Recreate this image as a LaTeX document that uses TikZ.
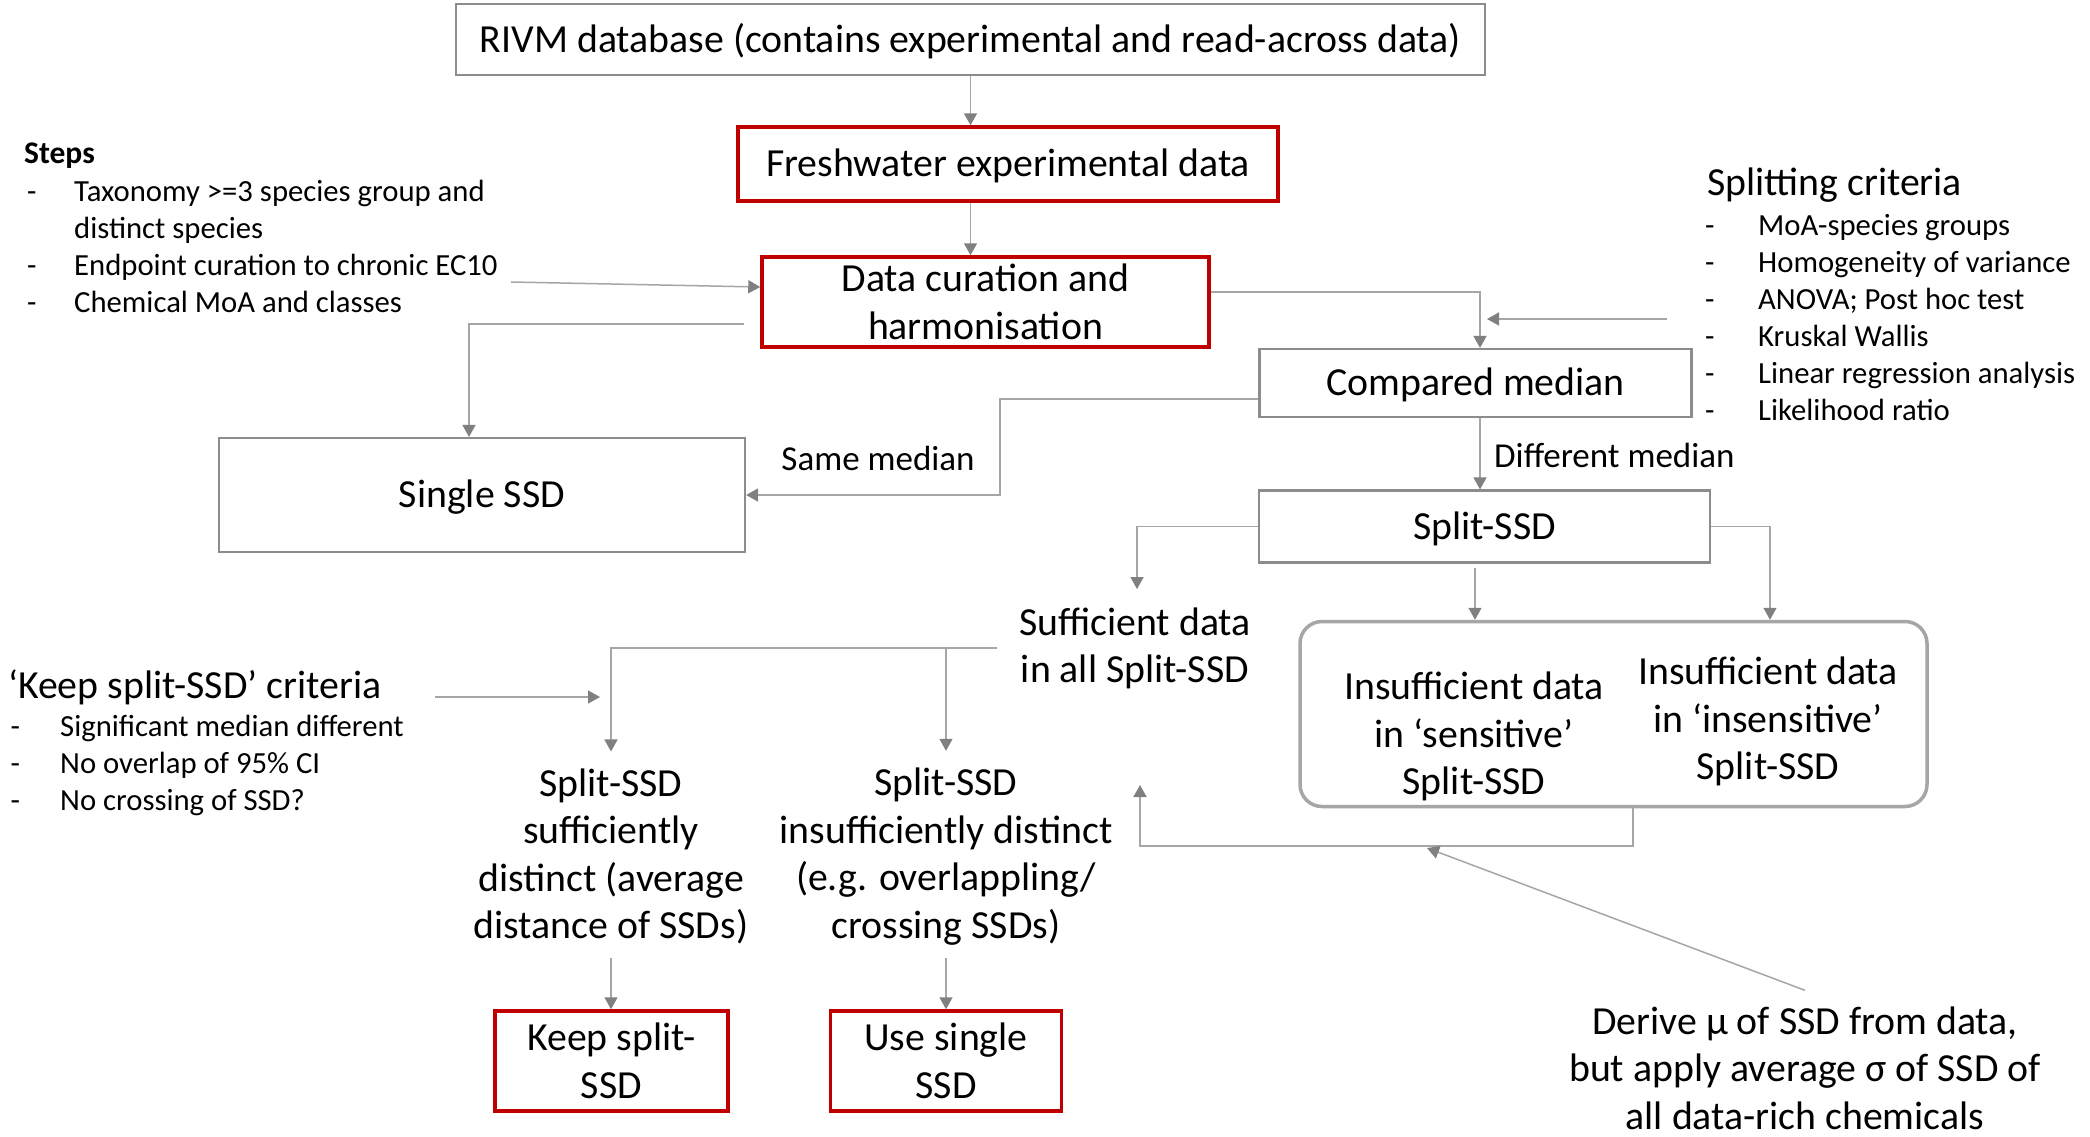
\documentclass[tikz,border=0pt]{standalone}
\usepackage{fontspec}
\setmainfont{Carlito}
\usetikzlibrary{arrows.meta}
\definecolor{linegray}{HTML}{A6A6A6}
\definecolor{tipgray}{HTML}{808080}
\definecolor{boxgray}{HTML}{8C8C8C}
\definecolor{roundgray}{HTML}{A6A6A6}
\definecolor{redline}{HTML}{C00000}
\begin{document}
\begin{tikzpicture}[x=1pt,y=-1pt,
  bigfont/.style={font=\fontsize{39.8}{47.5}\selectfont},
  labelfont/.style={font=\fontsize{35}{42}\selectfont},
  smallfont/.style={font=\fontsize{30.7}{37}\selectfont},
  graybox/.style={draw=boxgray, line width=2.2pt, inner sep=0pt, bigfont, align=center},
  redbox/.style={draw=redline, line width=3.5pt, inner sep=0pt, bigfont, align=center},
  oneline/.style={text height=33pt, text depth=8pt},
  plaintext/.style={inner sep=0pt, bigfont, align=center},
  arr/.style={draw=linegray, line width=1.5pt, -{Triangle[length=12pt,width=13pt,color=tipgray]}}
]
\fill[white] (0,0) rectangle (2090,1136);
\useasboundingbox (0,0) rectangle (2090,1136);

% main flow boxes
\node[graybox, oneline, minimum width=1029pt, minimum height=71pt] (rivm) at (970.5,39.5)
  {RIVM database (contains experimental and read-across data)};
\node[redbox, oneline, minimum width=540pt, minimum height=74pt] (fresh) at (1008,164)
  {Freshwater experimental data};
\node[redbox, minimum width=447pt, minimum height=90pt] (data) at (985.5,302)
  {Data curation and\\harmonisation};
\node[graybox, oneline, minimum width=526pt, minimum height=114pt] (single) at (482,495)
  {Single SSD};
\node[graybox, oneline, minimum width=432pt, minimum height=68pt] (cmp) at (1475.5,383)
  {Compared median};
\node[graybox, oneline, minimum width=451pt, minimum height=72pt] (split) at (1484.5,526.5)
  {Split-SSD};

% group of insufficient-data cases
\node[draw=roundgray, line width=3.5pt, rounded corners=22pt,
      minimum width=627pt, minimum height=185pt] (insuff) at (1613.5,714) {};
\node[plaintext] (sens) at (1474,736.5) {Insufficient data\\in ‘sensitive’\\Split-SSD};
\node[plaintext] (insens) at (1768,721.5) {Insufficient data\\in ‘insensitive’\\Split-SSD};

% branch texts
\node[plaintext] (suff) at (1135,648.5) {Sufficient data\\in all Split-SSD};
\node[plaintext] (sdist) at (611,856.5) {Split-SSD\\sufficiently\\distinct (average\\distance of SSDs)};
\node[plaintext] (idist) at (946,856.5) {Split-SSD\\insufficiently distinct\\(e.g. overlappling/\\crossing SSDs)};
\node[plaintext] (derive) at (1805,1068) {Derive μ of SSD from data,\\but apply average σ of SSD of\\all data-rich chemicals};

% outcomes
\node[redbox, minimum width=233pt, minimum height=100pt] (keep) at (611.5,1061) {Keep split-\\SSD};
\node[redbox, minimum width=231pt, minimum height=100pt] (use) at (946,1061) {Use single\\SSD};

% side notes
\node[anchor=base west, inner sep=0pt, font=\fontsize{31.5}{37}\selectfont\bfseries] (stepsT) at (24,163) {Steps};
\node[anchor=base west, inner sep=0pt, smallfont] (stepsL) at (27,201.7)
  {\begin{tabular}[t]{@{}p{47pt}@{}l@{}}
   -&Taxonomy >=3 species group and\\
    &distinct species\\
   -&Endpoint curation to chronic EC10\\
   -&Chemical MoA and classes
   \end{tabular}};

\node[anchor=base west, inner sep=0pt, bigfont] (critT) at (1707,195) {Splitting criteria};
\node[anchor=base west, inner sep=0pt, smallfont] (critL) at (1705,235)
  {\begin{tabular}[t]{@{}p{53pt}@{}l@{}}
   -&MoA-species groups\\
   -&Homogeneity of variance\\
   -&ANOVA; Post hoc test\\
   -&Kruskal Wallis\\
   -&Linear regression analysis\\
   -&Likelihood ratio
   \end{tabular}};

\node[anchor=base west, inner sep=0pt, bigfont] (keepT) at (8,698) {‘Keep split-SSD’ criteria};
\node[anchor=base west, inner sep=0pt, smallfont] (keepL) at (10.5,736.7)
  {\begin{tabular}[t]{@{}p{49.5pt}@{}l@{}}
   -&Significant median different\\
   -&No overlap of 95\% CI\\
   -&No crossing of SSD?
   \end{tabular}};

% connector labels
\node[anchor=base, inner sep=0pt, labelfont] (sameL) at (878,470) {Same median};
\node[anchor=base west, inner sep=0pt, labelfont] (diffL) at (1494,467) {Different median};

% free connector ends
\coordinate (stepsout) at (511,282);
\coordinate (critout) at (1667,319);
\coordinate (critin) at (1487,319);
\coordinate (sameturn) at (1000,495);
\coordinate (keepout) at (435,697);
\coordinate (keepin) at (600,697);
\coordinate (loopcorner) at (1140,846);
\coordinate (looptip) at (1140,785);
\coordinate (derivetip) at (1427,848);

% connectors
\draw[arr] (rivm.south) -- (rivm.south |- fresh.north);
\draw[arr] (fresh.south -| rivm.south) -- (data.north -| rivm.south);
\draw[arr] (stepsout) -- ([yshift=15pt]data.west);
\draw[arr] ([xshift=-16pt,yshift=-22pt]data.west) -| ([xshift=-13pt]single.north);
\draw[arr] ([yshift=10pt]data.east) -| ([xshift=4.5pt]cmp.north);
\draw[arr] (critout) -- (critin);
\draw[arr] ([yshift=-16pt]cmp.west) -| (sameturn) -- (single.east);
\draw[arr] ([xshift=4.5pt]cmp.south) -- ([xshift=-4.5pt]split.north);
\draw[arr] (split.west) -| ([xshift=2pt,yshift=18.5pt]suff.north);
\draw[arr] ([xshift=-9.5pt,yshift=-4pt]split.south) -- ([xshift=-138.5pt]insuff.north);
\draw[arr] (split.east) -| ([xshift=156.5pt]insuff.north);
\draw[arr] ([xshift=19.5pt]insuff.south) |- (loopcorner) -- (looptip);
\draw[arr] ([yshift=16pt]derive.north) -- (derivetip);
\draw[arr] ([xshift=-22pt,yshift=0.5pt]suff.west) -| ([yshift=17pt]sdist.north);
\draw[arr] (idist.north |- suff.west) -- ([yshift=17pt]idist.north);
\draw[arr] (keepout) -- (keepin);
\draw[arr] ([yshift=-13pt]sdist.south) -- (sdist.south |- keep.north);
\draw[arr] ([yshift=-13pt]idist.south) -- (idist.south |- use.north);
\end{tikzpicture}
\end{document}
